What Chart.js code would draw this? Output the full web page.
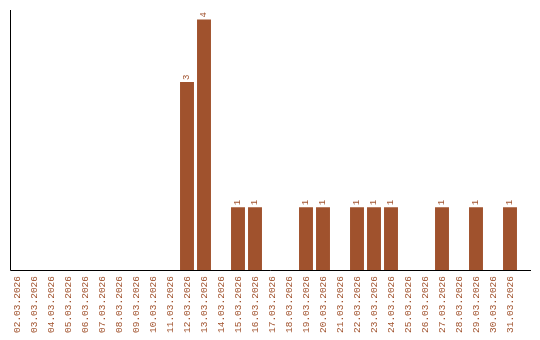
<!DOCTYPE html>
<html>
<head>
<meta charset="utf-8">
<script src="https://cdn.jsdelivr.net/npm/chart.js@4"></script>
<style>
  html, body { margin: 0; padding: 0; background: #fff; }
  #wrap { width: 540px; height: 340px; }
</style>
</head>
<body>
<div id="wrap"><canvas id="barChart" width="540" height="340"></canvas></div>
<script>
const days = ['02.03.2026', '03.03.2026', '04.03.2026', '05.03.2026', '06.03.2026', '07.03.2026',
    '08.03.2026', '09.03.2026', '10.03.2026', '11.03.2026', '12.03.2026', '13.03.2026',
    '14.03.2026', '15.03.2026', '16.03.2026', '17.03.2026', '18.03.2026', '19.03.2026',
    '20.03.2026', '21.03.2026', '22.03.2026', '23.03.2026', '24.03.2026', '25.03.2026',
    '26.03.2026', '27.03.2026', '28.03.2026', '29.03.2026', '30.03.2026', '31.03.2026'];
const counts = [0, 0, 0, 0, 0, 0, 0, 0, 0, 0, 3, 4, 0, 1, 1, 0, 0, 1, 1, 0, 1, 1, 1, 0, 0, 1, 0, 1, 0, 1];

const brown = '#A0522D';

// axis lines + value labels on top of the bars
const extras = {
    id: 'extras',
    afterDatasetsDraw(chart) {
        const ctx = chart.ctx;
        const area = chart.chartArea;
        ctx.save();
        ctx.strokeStyle = '#000';
        ctx.lineWidth = 1;
        ctx.beginPath();
        ctx.moveTo(10.5, area.top);
        ctx.lineTo(10.5, area.bottom + 0.5);
        ctx.lineTo(531, area.bottom + 0.5);
        ctx.stroke();

        ctx.fillStyle = brown;
        ctx.font = '9px "Liberation Mono"';
        ctx.textAlign = 'left';
        ctx.textBaseline = 'middle';
        chart.getDatasetMeta(0).data.forEach(function (bar, i) {
            if (!counts[i]) return;
            ctx.save();
            ctx.translate(bar.x, bar.y - 2);
            ctx.rotate(-Math.PI / 2);
            ctx.fillText(String(counts[i]), 0, 0);
            ctx.restore();
        });
        ctx.restore();
    }
};

window.onload = function () {
    const ctx = document.getElementById('barChart').getContext('2d');
    new Chart(ctx, {
        type: 'bar',
        data: {
            labels: days,
            datasets: [{
                data: counts,
                backgroundColor: brown,
                borderWidth: 0,
                categoryPercentage: 1,
                barPercentage: 0.82
            }]
        },
        options: {
            responsive: false,
            animation: false,
            layout: { padding: { left: 8.5, right: 21.5, top: 10, bottom: 0 } },
            plugins: {
                legend: { display: false },
                tooltip: { enabled: false }
            },
            scales: {
                x: {
                    grid: { display: false, drawTicks: false },
                    border: { display: false },
                    ticks: {
                        color: brown,
                        font: { family: 'Liberation Mono', size: 9.5 },
                        minRotation: 90,
                        maxRotation: 90,
                        autoSkip: false,
                        padding: 6
                    },
                    afterFit: function (scale) { scale.height = 70; }
                },
                y: {
                    display: false,
                    min: 0,
                    max: 4.15
                }
            }
        },
        plugins: [extras]
    });
};
</script>
</body>
</html>
